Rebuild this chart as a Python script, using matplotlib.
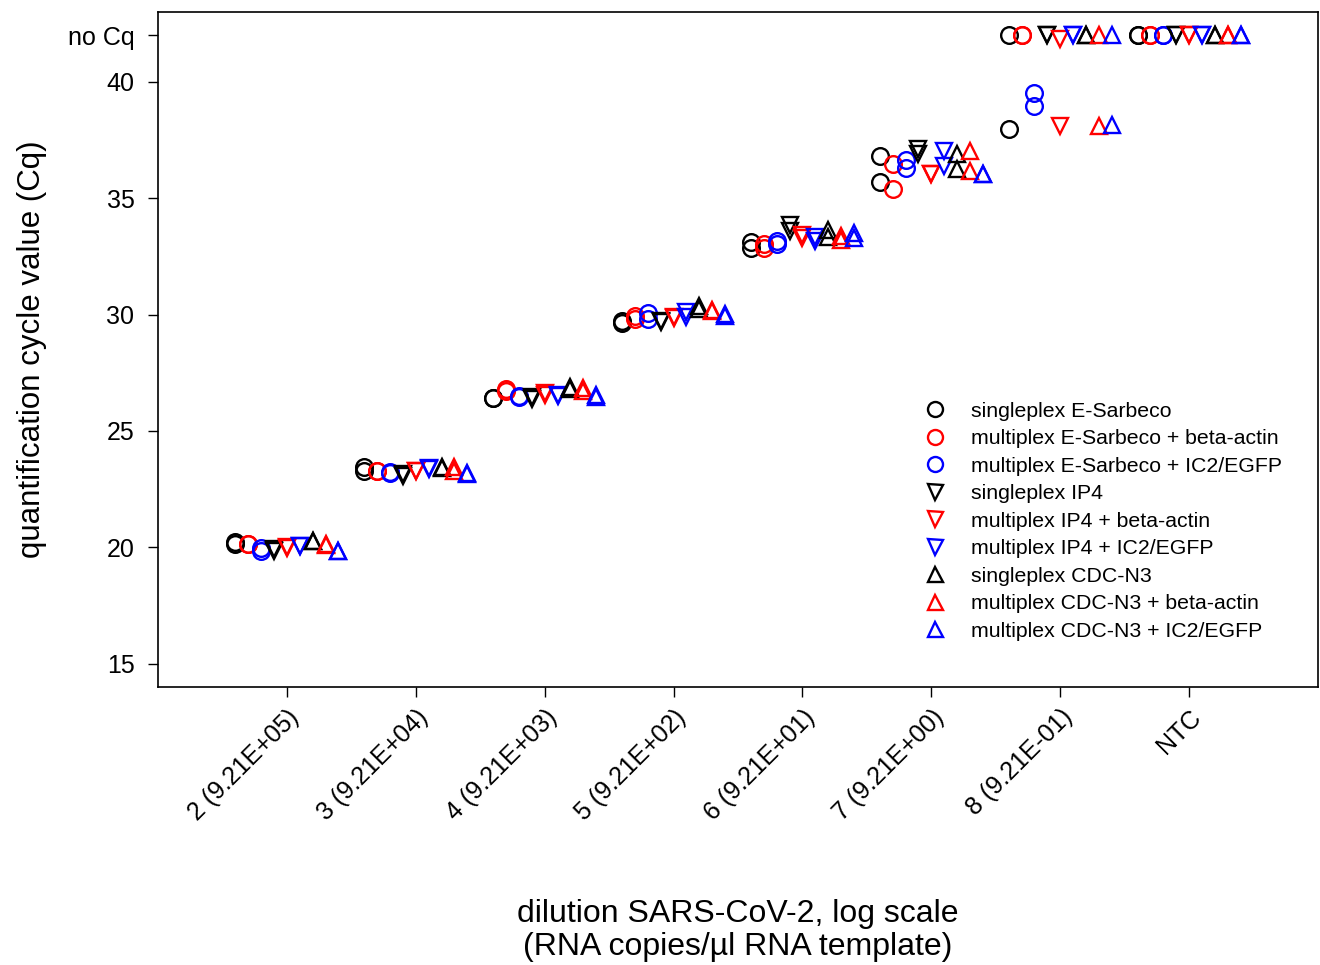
import numpy as np
import matplotlib
matplotlib.use("Agg")
import matplotlib.pyplot as plt

plt.rcParams['font.family'] = ['Liberation Sans', 'DejaVu Sans']

# ============================
# Datos (Cq por dilución, dos réplicas por serie)
# ============================
NO_CQ = 42

dilutions = ["2 (9.21E+05)", "3 (9.21E+04)", "4 (9.21E+03)", "5 (9.21E+02)",
             "6 (9.21E+01)", "7 (9.21E+00)", "8 (9.21E-01)", "NTC"]
x_pos = [2, 3, 4, 5, 6, 7, 8, 9]

series_names = ["singleplex E-Sarbeco",
                "multiplex E-Sarbeco + beta-actin",
                "multiplex E-Sarbeco + IC2/EGFP",
                "singleplex IP4",
                "multiplex IP4 + beta-actin",
                "multiplex IP4 + IC2/EGFP",
                "singleplex CDC-N3",
                "multiplex CDC-N3 + beta-actin",
                "multiplex CDC-N3 + IC2/EGFP"]
series_colors = ["black", "red", "blue"] * 3
series_markers = ["o"] * 3 + ["v"] * 3 + ["^"] * 3

rep1 = [
    [20.23, 23.44, 26.43, 29.72, 33.10, 36.80, NO_CQ, NO_CQ],
    [20.16, 23.28, 26.80, 29.94, 33.05, 36.45, NO_CQ, NO_CQ],
    [19.96, 23.23, 26.52, 30.05, 33.18, 36.65, 39.50, NO_CQ],
    [19.92, 23.13, 26.44, 29.73, 33.87, 37.10, NO_CQ, NO_CQ],
    [20.02, 23.30, 26.62, 29.90, 33.40, 36.05, 41.85, NO_CQ],
    [20.05, 23.42, 26.55, 30.12, 33.35, 37.04, NO_CQ, NO_CQ],
    [20.28, 23.47, 26.90, 30.35, 33.65, 36.90, NO_CQ, NO_CQ],
    [20.13, 23.45, 26.85, 30.20, 33.37, 37.04, NO_CQ, NO_CQ],
    [19.86, 23.20, 26.55, 30.02, 33.50, 36.05, NO_CQ, NO_CQ],
]
rep2 = [
    [20.13, 23.30, 26.43, 29.65, 32.85, 35.70, 37.98, NO_CQ],
    [20.16, 23.28, 26.72, 29.82, 32.88, 35.40, NO_CQ, NO_CQ],
    [19.85, 23.20, 26.47, 29.80, 33.02, 36.30, 38.95, NO_CQ],
    [19.85, 23.05, 26.38, 29.70, 33.60, 36.90, NO_CQ, NO_CQ],
    [19.98, 23.30, 26.55, 29.85, 33.30, 36.05, 38.10, NO_CQ],
    [20.05, 23.35, 26.50, 29.90, 33.15, 36.40, NO_CQ, NO_CQ],
    [20.28, 23.40, 26.80, 30.25, 33.35, 36.25, NO_CQ, NO_CQ],
    [20.10, 23.30, 26.70, 30.15, 33.20, 36.16, 38.10, NO_CQ],
    [19.84, 23.17, 26.45, 29.92, 33.30, 36.05, 38.15, NO_CQ],
]

# ============================
# Figura
# ============================
fig = plt.figure(figsize=(13.2, 9.65), dpi=100)
ax = fig.add_axes([158/1320, 1 - 687/965, (1318 - 158)/1320, (687 - 12)/965])

offsets = np.linspace(-0.4, 0.4, len(series_names))
for i, name in enumerate(series_names):
    xs = np.array(x_pos) + offsets[i]
    style = dict(linestyle="none", marker=series_markers[i], markersize=12,
                 markerfacecolor="none", markeredgecolor=series_colors[i],
                 markeredgewidth=1.7)
    ax.plot(xs, rep1[i], label=name, **style)
    ax.plot(xs, rep2[i], **style)

ax.set_xlim(1, 10)
ax.set_ylim(14, 43)
ax.set_xticks(x_pos)
ax.set_xticklabels(dilutions, rotation=45, ha="right", rotation_mode="anchor")
ax.set_yticks([15, 20, 25, 30, 35, 40, NO_CQ])
ax.set_yticklabels(["15", "20", "25", "30", "35", "40", "no Cq"])
ax.tick_params(axis="both", labelsize=18, direction="out", length=7, width=1)
ax.tick_params(axis="x", pad=6)
ax.tick_params(axis="y", pad=10)

for sp in ax.spines.values():
    sp.set_linewidth(1.2)

ax.set_ylabel("quantification cycle value (Cq)", fontsize=22.5, labelpad=15)
ax.set_xlabel("dilution SARS-CoV-2, log scale\n(RNA copies/µl RNA template)",
              fontsize=23, labelpad=53, linespacing=1.15)

ax.legend(loc="upper left", bbox_to_anchor=(914/1320, 1 - 391/965),
          bbox_transform=fig.transFigure, frameon=False, fontsize=15.3,
          handlelength=1.0, handletextpad=1.2, labelspacing=0.4,
          borderpad=0, markerscale=0.9)

plt.savefig("out.png", dpi=100)
